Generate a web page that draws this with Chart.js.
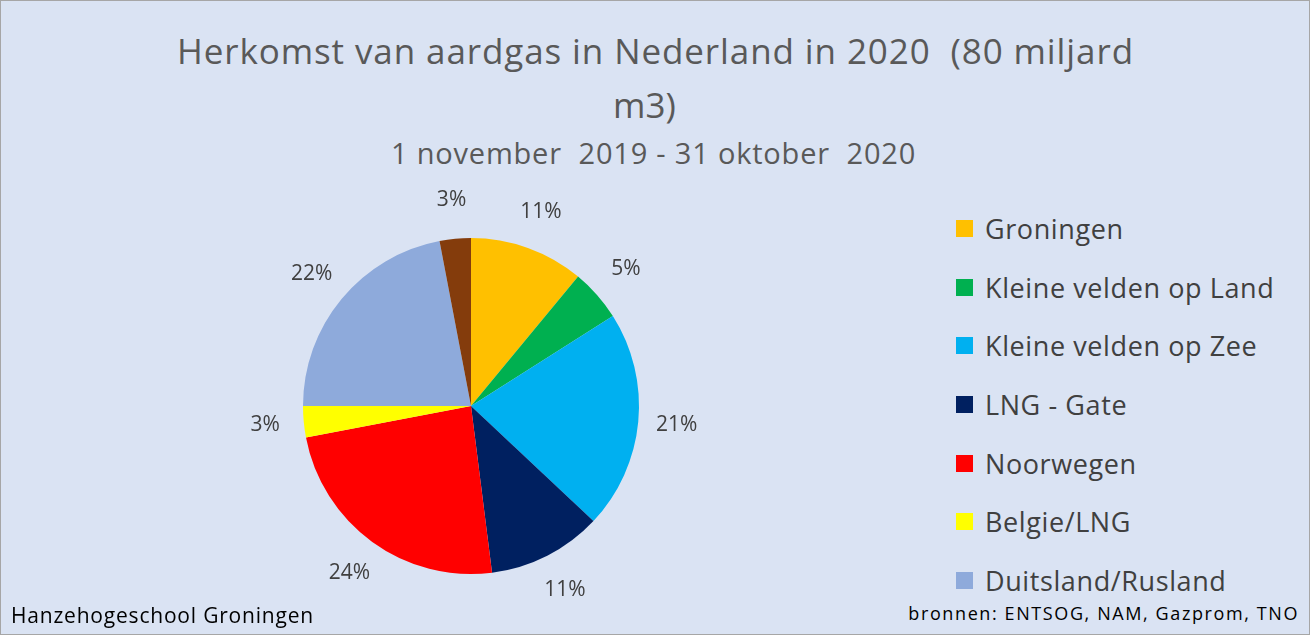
<!DOCTYPE html>
<html><head><meta charset="utf-8">
<script src="https://cdn.jsdelivr.net/npm/chart.js@4"></script>
<style>
body{margin:0;background:#fff;font-family:"Open Sans",sans-serif;}
#wrap{position:absolute;left:0;top:0;width:1308px;height:633px;background:#dae3f3;border:1px solid #a6a6a6;overflow:hidden;}
.t{position:absolute;color:#595959;white-space:nowrap;}
#box{position:absolute;left:220px;top:155px;width:500px;height:500px;}
#legend{position:absolute;left:955px;top:198px;}
.li{display:flex;align-items:center;height:58.7px;font-size:27px;letter-spacing:0.6px;color:#404040;}
.sw{width:17px;height:17px;margin-right:12px;}
</style></head><body>
<div id="wrap">
<div class="t" style="left:176px;top:26px;font-size:35px;letter-spacing:0.9px;">Herkomst van aardgas in Nederland in 2020&nbsp; (80 miljard</div>
<div class="t" style="left:612px;top:80px;font-size:35px;">m3)</div>
<div class="t" style="left:390px;top:132px;font-size:29px;letter-spacing:0.8px;">1 november&nbsp; 2019 - 31 oktober&nbsp; 2020</div>
<div id="box"><canvas id="c" width="500" height="500"></canvas></div>
<div id="legend"></div>
<div class="t" style="left:10px;top:600px;font-size:21px;letter-spacing:0.8px;color:#000;">Hanzehogeschool Groningen</div>
<div class="t" style="right:10px;top:600px;font-size:18px;letter-spacing:1.6px;color:#000;">bronnen: ENTSOG, NAM, Gazprom, TNO</div>
</div>
<script>
const categories=["Groningen","Kleine velden op Land","Kleine velden op Zee","LNG - Gate","Noorwegen","Belgie/LNG","Duitsland/Rusland","Overig"];
const values=[11,5,21,11,24,3,22,3];
const colors=["#ffc000","#00b050","#00b0f0","#002060","#ff0000","#ffff00","#8eaadb","#843c0c"];
const leg=document.getElementById('legend');
categories.slice(0,7).forEach((c,i)=>{leg.innerHTML+=`<div class="li"><div class="sw" style="background:${colors[i]}"></div>${c}</div>`;});
const labelPlugin={id:'lbl',afterDatasetsDraw(ch){const ctx=ch.ctx;const meta=ch.getDatasetMeta(0);ctx.save();ctx.font='21px "Open Sans"';ctx.fillStyle='#404040';ctx.textAlign='center';ctx.textBaseline='middle';
meta.data.forEach((a,i)=>{const ang=(a.startAngle+a.endAngle)/2;const r=a.outerRadius*1.23;ctx.fillText(values[i]+'%',a.x+Math.cos(ang)*r,a.y+Math.sin(ang)*r);});ctx.restore();}};
new Chart(document.getElementById('c'),{type:'pie',data:{labels:categories,datasets:[{data:values,backgroundColor:colors,borderWidth:0}]},
options:{responsive:false,animation:false,layout:{padding:82},plugins:{legend:{display:false},tooltip:{enabled:false}}},plugins:[labelPlugin]});
</script>
</body></html>
